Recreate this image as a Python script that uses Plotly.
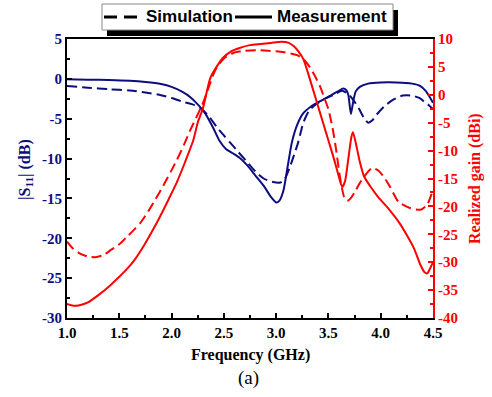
import plotly.graph_objects as go

# ---- data -------------------------------------------------------------
# measured |S11| (dB)
freq_s11_meas = [1.00, 1.20, 1.40, 1.60, 1.75, 1.90, 2.00, 2.10, 2.18, 2.25,
                 2.32, 2.40, 2.46, 2.52, 2.58, 2.65, 2.72, 2.80, 2.88, 2.95,
                 3.00, 3.03, 3.07, 3.11, 3.15, 3.20, 3.26, 3.33, 3.42, 3.52,
                 3.60, 3.64, 3.67, 3.69, 3.715, 3.735, 3.76, 3.80, 3.88, 4.00,
                 4.15, 4.30, 4.38, 4.43, 4.47, 4.50]
s11_meas = [-0.05, -0.1, -0.15, -0.25, -0.4, -0.65, -1.0, -1.6, -2.3, -3.2,
            -4.3, -6.2, -7.8, -8.8, -9.3, -9.9, -10.8, -12.1, -13.4, -14.8,
            -15.5, -15.3, -14.0, -11.0, -8.0, -5.8, -4.3, -3.5, -2.8, -2.1,
            -1.5, -1.2, -1.4, -2.0, -4.4, -3.0, -1.6, -1.0, -0.6, -0.45,
            -0.45, -0.6, -0.9, -1.5, -2.3, -3.0]

# simulated |S11| (dB)
freq_s11_sim = [1.00, 1.20, 1.40, 1.60, 1.75, 1.90, 2.00, 2.10, 2.20, 2.27,
                2.35, 2.43, 2.50, 2.56, 2.64, 2.72, 2.80, 2.88, 2.96, 3.04,
                3.08, 3.13, 3.17, 3.21, 3.26, 3.31, 3.36, 3.45, 3.55, 3.63,
                3.69, 3.74, 3.79, 3.84, 3.88, 3.92, 3.96, 4.03, 4.12, 4.21,
                4.30, 4.37, 4.42, 4.46, 4.50]
s11_sim = [-0.9, -1.1, -1.3, -1.45, -1.7, -2.05, -2.4, -2.85, -3.2, -3.6,
           -4.6, -6.0, -7.1, -8.0, -9.2, -10.4, -11.6, -12.5, -12.9, -13.0,
           -12.6, -11.1, -9.6, -8.0, -5.5, -4.1, -3.4, -2.6, -2.0, -1.5,
           -1.9, -2.7, -3.7, -4.9, -5.5, -5.2, -4.5, -3.5, -2.6, -2.1,
           -2.1, -2.4, -2.9, -3.3, -3.8]

# measured realized gain (dBi)
freq_gain_meas = [1.00, 1.06, 1.12, 1.20, 1.30, 1.41, 1.50, 1.57, 1.65, 1.73,
                  1.81, 1.89, 1.97, 2.05, 2.13, 2.21, 2.25, 2.30, 2.37, 2.43,
                  2.49, 2.57, 2.65, 2.75, 2.85, 2.95, 3.05, 3.12, 3.17, 3.22,
                  3.26, 3.30, 3.35, 3.40, 3.45, 3.50, 3.55, 3.59, 3.62, 3.635,
                  3.66, 3.69, 3.72, 3.735, 3.76, 3.80, 3.84, 3.90, 3.97, 4.06,
                  4.18, 4.26, 4.32, 4.38, 4.42, 4.445, 4.47, 4.50]
gain_meas = [-37.5, -37.8, -37.7, -37.2, -35.9, -34.2, -32.6, -31.3, -29.5, -27.2,
             -24.6, -21.8, -18.8, -15.7, -12.0, -8.0, -5.0, -2.4, 3.0, 5.0,
             6.6, 7.8, 8.4, 8.9, 9.1, 9.3, 9.5, 9.3, 8.7, 7.6,
             6.4, 4.2, 1.1, -2.0, -5.1, -8.2, -11.3, -14.0, -16.0, -16.5,
             -15.4, -11.5, -7.5, -6.7, -8.5, -12.0, -14.6, -16.4, -18.2, -20.1,
             -23.0, -25.5, -27.6, -30.5, -31.8, -32.0, -31.2, -30.0]

# simulated realized gain (dBi)
freq_gain_sim = [1.00, 1.06, 1.12, 1.20, 1.27, 1.35, 1.42, 1.50, 1.57, 1.64,
                 1.70, 1.78, 1.85, 1.92, 2.00, 2.05, 2.12, 2.18, 2.24, 2.30,
                 2.36, 2.42, 2.50, 2.59, 2.70, 2.81, 2.92, 3.04, 3.14, 3.20,
                 3.26, 3.32, 3.37, 3.42, 3.46, 3.50, 3.54, 3.57, 3.61, 3.65,
                 3.68, 3.71, 3.75, 3.80, 3.86, 3.92, 3.98, 4.04, 4.09, 4.17,
                 4.28, 4.38, 4.44, 4.50]
gain_sim = [-26.3, -27.6, -28.4, -29.0, -29.1, -28.7, -27.8, -26.8, -25.5, -24.2,
            -23.0, -20.8, -18.6, -16.3, -13.5, -11.7, -8.9, -6.3, -3.9, -1.5,
            1.6, 4.5, 6.5, 7.5, 7.9, 8.0, 7.9, 7.7, 7.4, 7.1,
            6.4, 5.0, 3.4, 1.5, -0.5, -2.6, -6.0, -9.4, -14.7, -18.3,
            -19.0, -18.6, -17.5, -15.8, -14.2, -13.1, -13.6, -15.0, -16.5, -19.2,
            -20.3, -20.6, -19.8, -17.1]

# tick labels
x_ticks = [1.0, 1.5, 2.0, 2.5, 3.0, 3.5, 4.0, 4.5]
x_tick_text = ["1.0", "1.5", "2.0", "2.5", "3.0", "3.5", "4.0", "4.5"]
s11_ticks = [5, 0, -5, -10, -15, -20, -25, -30]
s11_tick_text = ["5", "0", "-5", "-10", "-15", "-20", "-25", "-30"]
gain_ticks = [10, 5, 0, -5, -10, -15, -20, -25, -30, -35, -40]
gain_tick_text = ["10", "5", "0", "-5", "-10", "-15", "-20", "-25", "-30", "-35", "-40"]

# ---- styling ----------------------------------------------------------
NAVY = "#0d0d80"
RED = "#ff0000"
SERIF = "Liberation Serif"
SANS = "Liberation Sans"
W, H = 492, 397
L, R, T, B = 67, 433, 39, 318  # plot box in page pixels


def px(x):
    return (x - L) / (R - L)


def py(y):
    return (B - y) / (B - T)


DASH = "10px,5px"

fig = go.Figure()
fig.add_trace(go.Scatter(x=freq_s11_sim, y=s11_sim, mode="lines",
                         line=dict(color=NAVY, width=2, dash=DASH, shape="spline", smoothing=0.6),
                         showlegend=False))
fig.add_trace(go.Scatter(x=freq_s11_meas, y=s11_meas, mode="lines",
                         line=dict(color=NAVY, width=2, shape="spline", smoothing=0.6),
                         showlegend=False))
fig.add_trace(go.Scatter(x=freq_gain_sim, y=gain_sim, mode="lines", yaxis="y2",
                         line=dict(color=RED, width=2, dash=DASH, shape="spline", smoothing=0.6),
                         showlegend=False))
fig.add_trace(go.Scatter(x=freq_gain_meas, y=gain_meas, mode="lines", yaxis="y2",
                         line=dict(color=RED, width=2, shape="spline", smoothing=0.6),
                         showlegend=False))

tick_font = dict(family=SERIF, size=15, weight="bold")

fig.update_layout(
    width=W, height=H,
    margin=dict(l=L, r=W - R, t=T, b=H - B, pad=0),
    paper_bgcolor="white", plot_bgcolor="white",
    showlegend=False,
    xaxis=dict(range=[1, 4.5], tickvals=x_ticks, ticktext=x_tick_text,
               ticks="inside", ticklen=5, tickwidth=2, tickcolor="black",
               minor=dict(tickvals=[1.25, 1.75, 2.25, 2.75, 3.25, 3.75, 4.25],
                          ticks="inside", ticklen=3, tickwidth=2, tickcolor="black"),
               showline=True, linewidth=2, linecolor="black", mirror=True,
               showgrid=False, zeroline=False,
               tickfont=dict(tick_font, color="black")),
    yaxis=dict(range=[-30, 5], tickvals=s11_ticks, ticktext=s11_tick_text,
               ticks="inside", ticklen=5, tickwidth=2, tickcolor="black",
               minor=dict(dtick=2.5, tick0=0, ticks="inside", ticklen=3,
                          tickwidth=2, tickcolor="black"),
               showline=True, linewidth=2, linecolor="black",
               showgrid=False, zeroline=False,
               tickfont=dict(tick_font, color=NAVY)),
    yaxis2=dict(range=[-40, 10], tickvals=gain_ticks, ticktext=gain_tick_text,
                overlaying="y", side="right", anchor="x",
                ticks="inside", ticklen=5, tickwidth=2, tickcolor=RED,
                minor=dict(dtick=2.5, tick0=0, ticks="inside", ticklen=3,
                           tickwidth=2, tickcolor=RED),
                showline=True, linewidth=2, linecolor=RED,
                showgrid=False, zeroline=False,
                tickfont=dict(tick_font, color=RED)),
)


def label(x, y, text, size, color, bold=True, angle=0, family=SERIF, xanchor="center"):
    fig.add_annotation(x=px(x), y=py(y), xref="paper", yref="paper",
                       xanchor=xanchor, yanchor="middle", text=text,
                       showarrow=False, textangle=angle,
                       font=dict(family=family, size=size, color=color,
                                 weight="bold" if bold else "normal"))


# axis titles and caption
label(250, 355, "Frequency (GHz)", 16, "black")
label(248, 378, "(a)", 19, "black", bold=False)
label(25, 170, "|S<sub>11</sub>| (dB)", 16, NAVY, angle=-90)
label(475, 178, "Realized gain (dBi)", 16, RED, angle=-90)

# legend box with drop shadow
fig.add_shape(type="rect", xref="paper", yref="paper",
              x0=px(107), x1=px(398), y0=py(10), y1=py(36),
              fillcolor="black", line=dict(width=0))
fig.add_shape(type="rect", xref="paper", yref="paper",
              x0=px(102), x1=px(393), y0=py(4), y1=py(30),
              fillcolor="white", line=dict(color="#8a8a8a", width=1))
for a, b in [(104, 117), (124, 137)]:
    fig.add_shape(type="line", xref="paper", yref="paper",
                  x0=px(a), x1=px(b), y0=py(17), y1=py(17),
                  line=dict(color="black", width=3))
fig.add_shape(type="line", xref="paper", yref="paper",
              x0=px(235), x1=px(272), y0=py(17), y1=py(17),
              line=dict(color="black", width=3))
label(144, 17, "Simulation", 17, "black", family=SANS, xanchor="left")
label(275, 17, "Measurement", 17, "black", family=SANS, xanchor="left")

fig.write_html("out.html")
